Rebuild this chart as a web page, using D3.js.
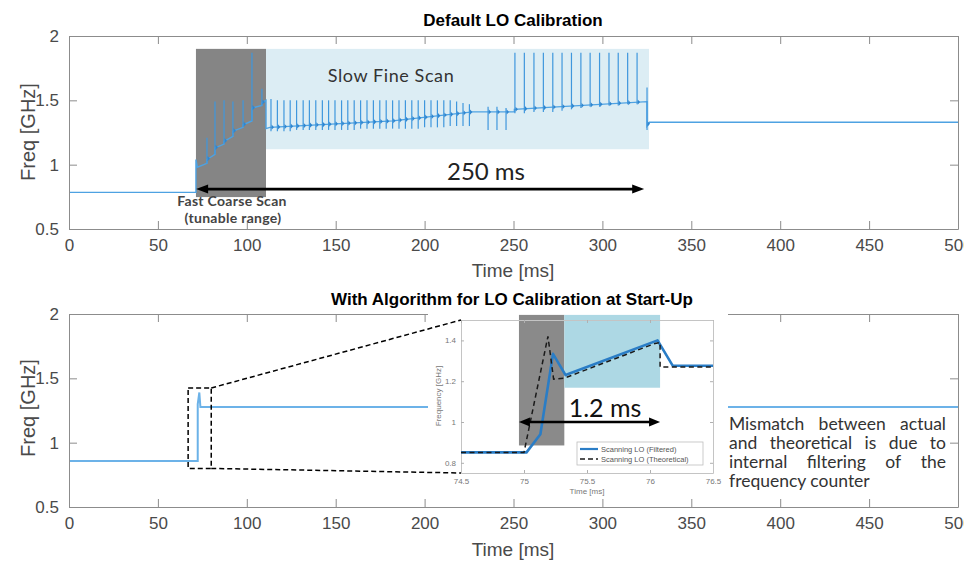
<!DOCTYPE html>
<html><head><meta charset="utf-8">
<script src="https://cdn.jsdelivr.net/npm/d3@7"></script>
<style>body{margin:0;background:#fff}svg{display:block}</style>
</head><body>
<svg id="c" width="964" height="564"></svg>
<script>
// ---------- data ----------
const xTicks = [0, 50, 100, 150, 200, 250, 300, 350, 400, 450, 500];
const yTicks = [0.5, 1, 1.5, 2];
const insetXTicks = [74.5, 75, 75.5, 76, 76.5];
const insetYTicks = [0.8, 1, 1.2, 1.4];

// top panel: baseline trace (time ms, freq GHz)
const topTraceT = [0, 71.4, 71.4, 72.2, 77.6, 77.6, 82.1, 82.1, 87.2, 87.2, 92.2, 92.2, 97.9, 97.9, 102.9, 102.9, 108.5, 108.5, 110.8, 110.8, 113, 182, 227, 250.5, 250.5, 325.1, 325.1, 326.5, 500];
const topTraceF = [0.785, 0.785, 1.04, 0.98, 1.01, 1.04, 1.08, 1.13, 1.16, 1.18, 1.22, 1.26, 1.29, 1.31, 1.34, 1.44, 1.46, 1.48, 1.50, 1.28, 1.29, 1.34, 1.41, 1.41, 1.43, 1.49, 1.30, 1.33, 1.33];

// spikes: coarse scan
const coarseSpikeT = [77.6, 82.1, 87.2, 92.2, 97.9, 102.9, 108.5];
const coarseSpikeHi = [1.21, 1.49, 1.50, 1.49, 1.50, 1.87, 1.59];
const coarseSpikeLo = [1.01, 1.08, 1.16, 1.22, 1.29, 1.34, 1.46];
// spikes: slow fine scan
const fineSpikeT = [113.6, 117.2, 120.9, 124.4, 128.0, 131.7, 135.2, 138.8, 142.5, 146.0, 149.6, 153.3, 156.8, 160.4, 164.0, 167.6, 171.2, 174.8, 178.4, 182.0, 185.6, 189.2, 192.8, 196.4, 200.0, 203.6, 207.2, 210.8, 214.4, 218.0, 221.6, 225.2];
const fineSpikeHi = [1.51, 1.50, 1.50, 1.50, 1.50, 1.50, 1.50, 1.50, 1.50, 1.50, 1.50, 1.50, 1.50, 1.50, 1.50, 1.50, 1.50, 1.50, 1.50, 1.50, 1.50, 1.50, 1.50, 1.50, 1.50, 1.50, 1.50, 1.50, 1.50, 1.49, 1.48, 1.47];
const fineSpikeLo = [1.26, 1.26, 1.26, 1.26, 1.27, 1.27, 1.27, 1.27, 1.27, 1.27, 1.27, 1.27, 1.27, 1.27, 1.28, 1.28, 1.28, 1.28, 1.28, 1.28, 1.28, 1.28, 1.28, 1.28, 1.29, 1.29, 1.29, 1.29, 1.30, 1.30, 1.30, 1.30];
const midSpikeT = [235.7, 240.7, 245.8];
const midSpikeHi = [1.45, 1.45, 1.44];
const midSpikeLo = [1.27, 1.27, 1.27];
const bigSpikeT = [250.8, 256.1, 261.5, 266.8, 272.1, 277.3, 282.6, 287.9, 293.1, 298.4, 303.7, 308.9, 314.2, 319.5, 325.1];
const bigSpikeHi = [1.87, 1.87, 1.87, 1.87, 1.87, 1.87, 1.87, 1.87, 1.87, 1.87, 1.87, 1.87, 1.87, 1.87, 1.60];
const bigSpikeLo = [1.40, 1.40, 1.41, 1.41, 1.41, 1.42, 1.43, 1.44, 1.45, 1.45, 1.46, 1.46, 1.47, 1.47, 1.27];

// shaded regions (time range, freq range)
const coarseRegionT = [71.4, 110.8], coarseRegionF = [0.748, 1.90];
const fineRegionT = [110.8, 326.2], fineRegionF = [1.12, 1.90];
const topArrowT = [71.5, 323.5], topArrowF = 0.81;

// bottom panel trace
const botTraceT = [0, 72.4, 72.4, 73.3, 73.9, 500];
const botTraceF = [0.857, 0.857, 1.30, 1.39, 1.277, 1.277];
const zoomBoxT = [67, 80], zoomBoxF = [0.80, 1.425];

// inset
const filteredT = [74.5, 75.02, 75.13, 75.23, 75.33, 76.06, 76.18, 76.5];
const filteredF = [0.851, 0.851, 0.94, 1.334, 1.23, 1.40, 1.276, 1.276];
const theoreticalT = [74.5, 75.0, 75.19, 75.235, 75.32, 75.7, 76.04, 76.08, 76.08, 76.5];
const theoreticalF = [0.851, 0.851, 1.42, 1.21, 1.215, 1.305, 1.385, 1.39, 1.27, 1.27];
const insetCoarseT = [74.96, 75.32], insetCoarseF = [0.885, 1.525];
const insetFineT = [75.32, 76.08], insetFineF = [1.168, 1.525];
const insetArrowT = [74.96, 76.08], insetArrowF = 1.0;
const legendLabels = ["Scanning LO (Filtered)", "Scanning LO (Theoretical)"];
const noteLines = ["Mismatch between actual", "and theoretical is due to", "internal filtering of the", "frequency counter"];

// ---------- drawing ----------
const svg = d3.select('#c');
const AX = '#8c8c8c', TXT = '#4a4a4a';
const HELV = "'Liberation Sans', Arial, sans-serif";
const GOTH = "Lato, 'Open Sans', sans-serif";
const BLUE = '#4ea2e2';

const zip = (a, b) => a.map((v, i) => [v, b[i]]);

function styleAxis(g, fs) {
  g.select('.domain').attr('stroke', AX).attr('stroke-width', 1);
  g.selectAll('.tick line').attr('stroke', AX).attr('stroke-width', 1);
  g.selectAll('.tick text').attr('fill', TXT).style('font-family', HELV).style('font-size', fs + 'px');
}

function axesBox(g, x, y, xt, yt, opts) {
  const ts = opts.tick, fs = opts.fs, pad = opts.pad;
  const [x0, x1] = x.range(), [y0, y1] = y.range();
  const b = g.append('g').attr('transform', `translate(0,${y0})`)
    .call(d3.axisBottom(x).tickValues(xt).tickSizeInner(-ts).tickSizeOuter(0).tickPadding(pad).tickFormat(d => d));
  styleAxis(b, fs);
  const l = g.append('g').attr('transform', `translate(${x0},0)`)
    .call(d3.axisLeft(y).tickValues(yt).tickSizeInner(-ts).tickSizeOuter(0).tickPadding(pad).tickFormat(d => d));
  styleAxis(l, fs);
  const t = g.append('g').attr('transform', `translate(0,${y1})`)
    .call(d3.axisTop(x).tickValues(xt).tickSizeInner(-ts).tickSizeOuter(0).tickFormat(''));
  styleAxis(t, fs);
  const r = g.append('g').attr('transform', `translate(${x1},0)`)
    .call(d3.axisRight(y).tickValues(yt).tickSizeInner(-ts).tickSizeOuter(0).tickFormat(''));
  styleAxis(r, fs);
  return {b, l, t, r};
}

function dblArrow(g, xa, xb, yy, hl, hw, lw) {
  g.append('line').attr('x1', xa + hl - 1).attr('x2', xb - hl + 1).attr('y1', yy).attr('y2', yy)
    .attr('stroke', '#000').attr('stroke-width', lw);
  g.append('path').attr('d', `M${xa},${yy}L${xa + hl},${yy - hw / 2}L${xa + hl},${yy + hw / 2}Z`).attr('fill', '#000');
  g.append('path').attr('d', `M${xb},${yy}L${xb - hl},${yy - hw / 2}L${xb - hl},${yy + hw / 2}Z`).attr('fill', '#000');
}

// ===== TOP PANEL =====
const xT = d3.scaleLinear().domain([0, 500]).range([69, 958]);
const yT = d3.scaleLinear().domain([0.5, 2]).range([229, 36]);
const gT = svg.append('g');

gT.append('rect').attr('x', xT(coarseRegionT[0])).attr('width', xT(coarseRegionT[1]) - xT(coarseRegionT[0]))
  .attr('y', yT(coarseRegionF[1])).attr('height', yT(coarseRegionF[0]) - yT(coarseRegionF[1])).attr('fill', '#858585');
gT.append('rect').attr('x', xT(fineRegionT[0])).attr('width', xT(fineRegionT[1]) - xT(fineRegionT[0]))
  .attr('y', yT(fineRegionF[1])).attr('height', yT(fineRegionF[0]) - yT(fineRegionF[1])).attr('fill', '#dcedf4');

const line = (x, y) => d3.line().x(d => x(d[0])).y(d => y(d[1]));
const topPts = zip(topTraceT, topTraceF);
gT.append('path').attr('d', line(xT, yT)(topPts)).attr('fill', 'none').attr('stroke', BLUE).attr('stroke-width', 1.4);

function baseAt(t) {
  for (let i = topTraceT.length - 2; i >= 0; i--) {
    const a = topTraceT[i], b = topTraceT[i + 1];
    if (t >= a && t <= b && b > a) return topTraceF[i] + (topTraceF[i + 1] - topTraceF[i]) * (t - a) / (b - a);
  }
  return topTraceF[0];
}
const spikeSets = [
  [coarseSpikeT, coarseSpikeHi, coarseSpikeLo],
  [fineSpikeT, fineSpikeHi, fineSpikeLo],
  [midSpikeT, midSpikeHi, midSpikeLo],
  [bigSpikeT, bigSpikeHi, bigSpikeLo]
];
spikeSets.forEach(([ts, his, los]) => {
  ts.forEach((t, i) => {
    const px = xT(t);
    gT.append('line').attr('x1', px).attr('x2', px).attr('y1', yT(los[i])).attr('y2', yT(his[i]))
      .attr('stroke', '#3f97dd').attr('stroke-width', 1.2);
    const by = yT(baseAt(t + 0.8));
    gT.append('path').attr('d', `M${px + 0.6},${by - 2.6}L${px + 3},${by}L${px + 0.6},${by + 2.6}Z`).attr('fill', '#2f86d0');
  });
});

axesBox(gT, xT, yT, xTicks, yTicks, {tick: 8, fs: 17, pad: 10});

dblArrow(gT, xT(topArrowT[0]), xT(topArrowT[1]), yT(topArrowF), 12, 9, 2.6);

gT.append('text').attr('x', 513).attr('y', 26).attr('text-anchor', 'middle')
  .style('font-family', HELV).style('font-weight', 'bold').style('font-size', '17px').attr('fill', '#000')
  .text('Default LO Calibration');
gT.append('text').attr('transform', 'translate(35,132) rotate(-90)').attr('text-anchor', 'middle')
  .style('font-family', HELV).style('font-size', '20px').attr('fill', TXT).text('Freq [GHz]');
gT.append('text').attr('x', 513).attr('y', 277).attr('text-anchor', 'middle')
  .style('font-family', HELV).style('font-size', '19px').attr('fill', TXT).text('Time [ms]');
gT.append('text').attr('x', 391).attr('y', 82).attr('text-anchor', 'middle')
  .style('font-family', GOTH).style('font-size', '18px').style('letter-spacing', '0.6px').attr('fill', '#333').text('Slow Fine Scan');
gT.append('text').attr('x', 486).attr('y', 180).attr('text-anchor', 'middle')
  .style('font-family', GOTH).style('font-size', '24px').attr('fill', '#222').text('250 ms');
gT.append('text').attr('x', 232).attr('y', 206).attr('text-anchor', 'middle')
  .style('font-family', GOTH).style('font-weight', 'bold').style('font-size', '14px').style('letter-spacing', '0.3px').attr('fill', '#444').text('Fast Coarse Scan');
gT.append('text').attr('x', 233).attr('y', 223).attr('text-anchor', 'middle')
  .style('font-family', GOTH).style('font-weight', 'bold').style('font-size', '14px').style('letter-spacing', '0.3px').attr('fill', '#444').text('(tunable range)');

// ===== BOTTOM PANEL =====
const xB = d3.scaleLinear().domain([0, 500]).range([69, 958]);
const yB = d3.scaleLinear().domain([0.5, 2]).range([507, 314]);
const gB = svg.append('g');

gB.append('path').attr('d', line(xB, yB)(zip(botTraceT, botTraceF))).attr('fill', 'none')
  .attr('stroke', '#6cb2e8').attr('stroke-width', 2);
axesBox(gB, xB, yB, xTicks, yTicks, {tick: 8, fs: 17, pad: 10});

gB.append('text').attr('x', 512).attr('y', 305).attr('text-anchor', 'middle')
  .style('font-family', HELV).style('font-weight', 'bold').style('font-size', '17px').attr('fill', '#000')
  .text('With Algorithm for LO Calibration at Start-Up');
gB.append('text').attr('transform', 'translate(35,408) rotate(-90)').attr('text-anchor', 'middle')
  .style('font-family', HELV).style('font-size', '20px').attr('fill', TXT).text('Freq [GHz]');
gB.append('text').attr('x', 513).attr('y', 556).attr('text-anchor', 'middle')
  .style('font-family', HELV).style('font-size', '19px').attr('fill', TXT).text('Time [ms]');

// zoom box
gB.append('rect').attr('x', xB(zoomBoxT[0])).attr('width', xB(zoomBoxT[1]) - xB(zoomBoxT[0]))
  .attr('y', yB(zoomBoxF[1])).attr('height', yB(zoomBoxF[0]) - yB(zoomBoxF[1]))
  .attr('fill', 'none').attr('stroke', '#000').attr('stroke-width', 1.5).attr('stroke-dasharray', '5,3');

// ===== INSET =====
const xI = d3.scaleLinear().domain([74.5, 76.5]).range([461, 713]);
const yI = d3.scaleLinear().domain([0.75, 1.5]).range([473, 320]);
const gI = svg.append('g');
gI.append('rect').attr('x', 428).attr('y', 309).attr('width', 300).attr('height', 189).attr('fill', '#fff');

// connecting lines
[[zoomBoxF[1], 1.5], [zoomBoxF[0], 0.75]].forEach(([fz, fi]) => {
  gI.append('line').attr('x1', xB(zoomBoxT[1])).attr('y1', yB(fz)).attr('x2', xI(74.5)).attr('y2', yI(fi))
    .attr('stroke', '#000').attr('stroke-width', 1.5).attr('stroke-dasharray', '5,3');
});

gI.append('rect').attr('x', xI(insetCoarseT[0])).attr('width', xI(insetCoarseT[1]) - xI(insetCoarseT[0]))
  .attr('y', yI(insetCoarseF[1])).attr('height', yI(insetCoarseF[0]) - yI(insetCoarseF[1])).attr('fill', '#8a8a8a');
gI.append('rect').attr('x', xI(insetFineT[0])).attr('width', xI(insetFineT[1]) - xI(insetFineT[0]))
  .attr('y', yI(insetFineF[1])).attr('height', yI(insetFineF[0]) - yI(insetFineF[1])).attr('fill', '#add8e4');

const ia = axesBox(gI, xI, yI, insetXTicks, insetYTicks, {tick: 3, fs: 8, pad: 5});
[ia.b, ia.l, ia.t, ia.r].forEach(a => {
  a.select('.domain').attr('stroke', '#c4c4c4');
  a.selectAll('.tick line').attr('stroke', '#b0b0b0');
  a.selectAll('.tick text').attr('fill', '#777');
});

gI.append('path').attr('d', line(xI, yI)(zip(filteredT, filteredF))).attr('fill', 'none')
  .attr('stroke', '#2a7dc6').attr('stroke-width', 2.6).attr('stroke-linejoin', 'round');
gI.append('path').attr('d', line(xI, yI)(zip(theoreticalT, theoreticalF))).attr('fill', 'none')
  .attr('stroke', '#1a1a1a').attr('stroke-width', 1.5).attr('stroke-dasharray', '5,3.5');

dblArrow(gI, xI(insetArrowT[0]), xI(insetArrowT[1]), yI(insetArrowF), 11, 9, 2.6);
gI.append('text').attr('x', 605).attr('y', 417).attr('text-anchor', 'middle')
  .style('font-family', GOTH).style('font-size', '25px').attr('fill', '#111').text('1.2 ms');

gI.append('text').attr('transform', 'translate(441,396) rotate(-90)').attr('text-anchor', 'middle')
  .style('font-family', HELV).style('font-size', '8px').attr('fill', '#777').text('Frequency [GHz]');
gI.append('text').attr('x', 587).attr('y', 494).attr('text-anchor', 'middle')
  .style('font-family', HELV).style('font-size', '8px').attr('fill', '#777').text('Time [ms]');

// legend
const lg = gI.append('g');
lg.append('rect').attr('x', 577).attr('y', 442).attr('width', 126).attr('height', 23)
  .attr('fill', '#fff').attr('stroke', '#bdbdbd').attr('stroke-width', 0.8);
legendLabels.forEach((lab, i) => {
  const yy = 449 + i * 10;
  const ln = lg.append('line').attr('x1', 580).attr('x2', 598).attr('y1', yy).attr('y2', yy);
  if (i === 0) ln.attr('stroke', '#2a7dc6').attr('stroke-width', 2.2);
  else ln.attr('stroke', '#1a1a1a').attr('stroke-width', 1.3).attr('stroke-dasharray', '5,3');
  lg.append('text').attr('x', 601).attr('y', yy + 2.6).style('font-family', HELV).style('font-size', '7.5px')
    .attr('fill', '#555').text(lab);
});

// note text (justified)
const noteX = 729, noteW = 217, noteY0 = 430, noteDY = 19;
const ng = svg.append('g').style('font-family', GOTH).style('font-size', '17.5px').attr('fill', '#333');
noteLines.forEach((ln, li) => {
  const yy = noteY0 + li * noteDY;
  if (li === noteLines.length - 1) { ng.append('text').attr('x', noteX).attr('y', yy).text(ln); return; }
  const words = ln.split(' ');
  const nodes = words.map(w => ng.append('text').attr('y', yy).text(w));
  const widths = nodes.map(n => n.node().getComputedTextLength());
  const gap = (noteW - d3.sum(widths)) / (words.length - 1);
  let cx = noteX;
  nodes.forEach((n, i) => { n.attr('x', cx); cx += widths[i] + gap; });
});
</script>
</body></html>
